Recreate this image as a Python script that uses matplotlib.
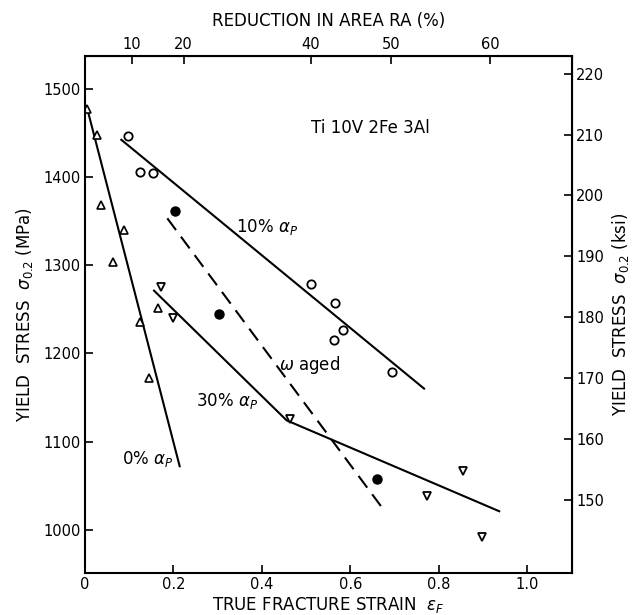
import numpy as np
import matplotlib
matplotlib.use("Agg")
import matplotlib.pyplot as plt

# ---- data ----
tri0_x = [0.005, 0.026, 0.037, 0.063, 0.088, 0.124, 0.145, 0.164]
tri0_y = [1477, 1447, 1368, 1304, 1340, 1235, 1172, 1251]

circ10_x = [0.096, 0.124, 0.154, 0.512, 0.565, 0.584, 0.563, 0.694]
circ10_y = [1446, 1406, 1404, 1278, 1257, 1226, 1215, 1179]

inv30_x = [0.171, 0.198, 0.463, 0.773, 0.854, 0.897]
inv30_y = [1275, 1240, 1126, 1038, 1067, 992]

omega_x = [0.203, 0.303, 0.660]
omega_y = [1361, 1245, 1057]

line0_x = [0.005, 0.214]
line0_y = [1477, 1072]
line10_x = [0.082, 0.767]
line10_y = [1442, 1160]
line30_x = [0.156, 0.456, 0.937]
line30_y = [1271, 1124, 1021]
lineom_x = [0.186, 0.678]
lineom_y = [1353, 1021]

x_ticks = [0, 0.2, 0.4, 0.6, 0.8, 1.0]
x_ticklabels = ["0", "0.2", "0.4", "0.6", "0.8", "1.0"]
y_ticks = [1000, 1100, 1200, 1300, 1400, 1500]
ksi_ticks = [150, 160, 170, 180, 190, 200, 210, 220]
ra_ticks = [10, 20, 40, 50, 60]

MPA_PER_KSI = 6.894757

plt.rcParams['font.family'] = ['DejaVu Sans']
fig = plt.figure(figsize=(6.35, 6.15), dpi=100)
ax = fig.add_axes([0.134, 0.0683, 0.767, 0.8407])

lw = 1.5
ax.plot(line0_x, line0_y, color='black', lw=lw)
ax.plot(line10_x, line10_y, color='black', lw=lw)
ax.plot(line30_x, line30_y, color='black', lw=lw)
ax.plot(lineom_x, lineom_y, color='black', lw=lw, dashes=(7, 4))

ms = 5.5
ax.plot(tri0_x, tri0_y, ls='none', marker='^', ms=ms, mfc='white', mec='black', mew=1.2)
ax.plot(circ10_x, circ10_y, ls='none', marker='o', ms=ms + 0.5, mfc='white', mec='black', mew=1.3)
ax.plot(inv30_x, inv30_y, ls='none', marker='v', ms=ms, mfc='white', mec='black', mew=1.3)
ax.plot(omega_x, omega_y, ls='none', marker='o', ms=ms + 1, mfc='black', mec='black')

ax.set_xlim(0, 1.102)
ax.set_ylim(951, 1537)

ax.set_xticks(x_ticks)
ax.set_xticklabels(x_ticklabels)
ax.set_yticks(y_ticks)

for s in ax.spines.values():
    s.set_linewidth(1.5)

ax.tick_params(direction='in', length=6, width=1.2, labelsize=10.5, pad=3)

ax.set_xlabel(r"TRUE FRACTURE STRAIN  $\epsilon_F$", fontsize=12, labelpad=2)
ax.set_ylabel(r"YIELD  STRESS  $\sigma_{0.2}$ (MPa)", fontsize=12, labelpad=6)

secy = ax.secondary_yaxis('right', functions=(lambda m: m / MPA_PER_KSI,
                                               lambda k: k * MPA_PER_KSI))
secy.set_yticks(ksi_ticks)
secy.tick_params(direction='in', length=6, width=1.2, labelsize=10.5, pad=3)
secy.set_ylabel(r"YIELD  STRESS  $\sigma_{0.2}$ (ksi)", fontsize=12, labelpad=4)


def eps_to_ra(e):
    e = np.asarray(e, dtype=float)
    return 100.0 * (1.0 - np.exp(-e))


def ra_to_eps(r):
    r = np.clip(np.asarray(r, dtype=float), -1e6, 99.999)
    return -np.log(1.0 - r / 100.0)


secx = ax.secondary_xaxis('top', functions=(eps_to_ra, ra_to_eps))
secx.set_xticks(ra_ticks)
secx.tick_params(direction='in', length=6, width=1.2, labelsize=10.5, pad=3)
secx.set_xlabel("REDUCTION IN AREA RA (%)", fontsize=12, labelpad=8)

ax.text(0.645, 1455, "Ti 10V 2Fe 3Al", fontsize=12, ha='center', va='center')
ax.text(0.411, 1343, r"10% $\alpha_P$", fontsize=12, ha='center', va='center')
ax.text(0.321, 1146, r"30% $\alpha_P$", fontsize=12, ha='center', va='center')
ax.text(0.143, 1080, r"0% $\alpha_P$", fontsize=12, ha='center', va='center')
ax.text(0.507, 1187, r"$\omega$ aged", fontsize=12, ha='center', va='center')

fig.savefig("out.png", dpi=100)
